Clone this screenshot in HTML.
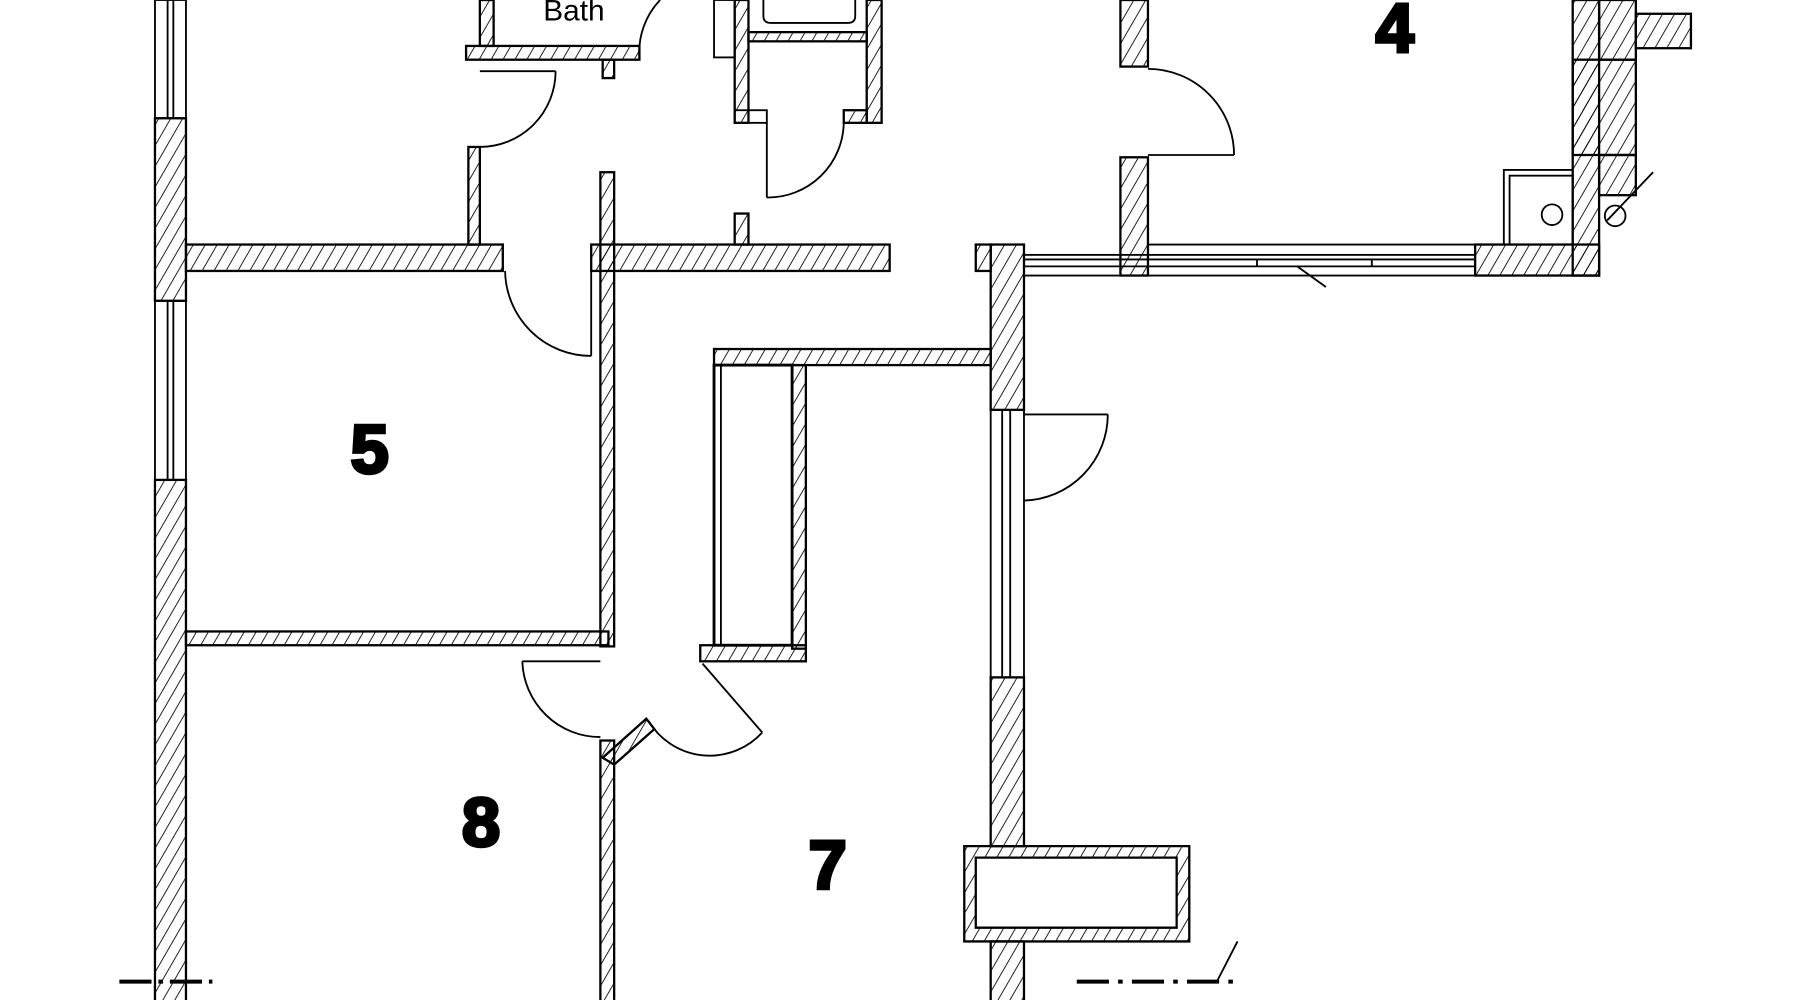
<!DOCTYPE html>
<html><head><meta charset="utf-8"><style>
html,body{margin:0;padding:0;background:#fff;}
svg{display:block;}
text{font-family:"Liberation Sans",sans-serif;font-weight:bold;fill:#000;}
</style></head><body>
<svg width="1800" height="1000" viewBox="0 0 1568 871" preserveAspectRatio="none" xmlns="http://www.w3.org/2000/svg">
<defs>
<pattern id="ht" patternUnits="userSpaceOnUse" width="9" height="9" patternTransform="rotate(30)">
<line x1="0" y1="0" x2="0" y2="9" stroke="#000" stroke-width="1.5"/>
</pattern>
</defs>
<rect width="1568" height="871" fill="#fff"/>
<g stroke="#000" stroke-width="2" fill="url(#ht)">
<rect x="135" y="103" width="27" height="159"/>
<rect x="135" y="418" width="27" height="460"/>
<rect x="162" y="213" width="276" height="23"/>
<rect x="408" y="128" width="10" height="85"/>
<rect x="406" y="40" width="151" height="12"/>
<rect x="418" y="0" width="12" height="40"/>
<rect x="525" y="52" width="10" height="16"/>
<rect x="523" y="150" width="12" height="413"/>
<rect x="523" y="645" width="12" height="233"/>
<rect x="515" y="213" width="260" height="23"/>
<rect x="640" y="186" width="12" height="27"/>
<rect x="640" y="0" width="12" height="107"/>
<rect x="755" y="0" width="13" height="107"/>
<rect x="652" y="28" width="103" height="8"/>
<rect x="735" y="96" width="20" height="11"/>
<rect x="622" y="304" width="241" height="14"/>
<rect x="690" y="318" width="12" height="247"/>
<rect x="610" y="562" width="92" height="14"/>
<rect x="162" y="550" width="368" height="12"/>
<polygon points="525,660 535,666 570,635 563,626"/>
<rect x="863" y="213" width="29" height="144"/>
<rect x="863" y="590" width="29" height="147"/>
<rect x="863" y="820" width="29" height="58"/>
<path d="M840,737 H1036 V820 H840 Z M850,747 V808 H1025 V747 Z" fill-rule="evenodd"/>
<rect x="976" y="0" width="24" height="58"/>
<rect x="976" y="137" width="24" height="103"/>
<rect x="1285" y="213" width="108" height="27"/>
<rect x="1370" y="0" width="23" height="240"/>
<rect x="1370" y="52" width="55" height="83"/>
<rect x="1393" y="0" width="32" height="52"/>
<rect x="1425" y="12" width="48" height="30"/>
<rect x="1393" y="135" width="32" height="35"/>
<rect x="850" y="213" width="13" height="23"/>
</g>
<g stroke="#000" stroke-width="1.6" fill="none">
<rect x="135" y="0" width="27" height="103"/>
<line x1="146" y1="0" x2="146" y2="103"/><line x1="151" y1="0" x2="151" y2="103"/>
<rect x="135" y="262" width="27" height="156"/>
<line x1="146" y1="262" x2="146" y2="418"/><line x1="151" y1="262" x2="151" y2="418"/>
<rect x="863" y="357" width="29" height="233"/>
<line x1="873" y1="357" x2="873" y2="590"/><line x1="880" y1="357" x2="880" y2="590"/>
<rect x="892" y="222" width="393" height="18"/>
<line x1="892" y1="226" x2="1285" y2="226"/><line x1="892" y1="232" x2="1285" y2="232"/>
<line x1="1095" y1="226" x2="1095" y2="232"/><line x1="1195" y1="226" x2="1195" y2="232"/>
<line x1="1000" y1="213" x2="1285" y2="213"/>
<line x1="1130" y1="232" x2="1155" y2="250"/>
<rect x="622" y="318" width="68" height="244" stroke-width="2.5"/>
<line x1="628" y1="318" x2="628" y2="562"/>
<line x1="418" y1="62" x2="484" y2="62"/>
<path d="M484,62 A66,66 0 0 1 418,128"/>
<path d="M557,50 A66,66 0 0 1 575,0"/>
<line x1="515" y1="236" x2="515" y2="310"/>
<path d="M440,236 A75,75 0 0 0 515,310"/>
<line x1="668" y1="107" x2="668" y2="172"/>
<path d="M668,172 A66,66 0 0 0 735,107"/>
<line x1="1000" y1="135" x2="1075" y2="135"/>
<path d="M1000,60 A75,75 0 0 1 1075,135"/>
<line x1="892" y1="361" x2="965" y2="361"/>
<path d="M965,361 A75,75 0 0 1 892,436"/>
<line x1="455" y1="576" x2="523" y2="576"/>
<path d="M455,576 A68,68 0 0 0 523,642"/>
<line x1="612" y1="578" x2="664" y2="638"/>
<path d="M664,638 A62,62 0 0 1 565,628"/>
<path d="M665,0 V14 Q665,20 672,20 H738 Q745,20 745,14 V0"/>
<rect x="622" y="0" width="18" height="50"/>
<rect x="640" y="96" width="28" height="11"/>
<rect x="1310" y="148" width="60" height="65"/>
<rect x="1315" y="153" width="55" height="60"/>
<circle cx="1352" cy="187" r="9"/>
<circle cx="1407" cy="188" r="9"/>
<line x1="1400" y1="192" x2="1440" y2="150"/>
<line x1="104" y1="855" x2="185" y2="855" stroke-width="3.5" stroke-dasharray="28,6,4,6"/>
<line x1="938" y1="855" x2="1080" y2="855" stroke-width="3.5" stroke-dasharray="28,8,4,8"/>
<line x1="1060" y1="855" x2="1078" y2="820"/>
</g>
<text x="500" y="18" font-size="26" style="font-weight:normal" text-anchor="middle">Bath</text>
<g stroke="#000" stroke-width="3">
<text x="1215" y="45" font-size="60" text-anchor="middle">4</text>
<text x="322" y="412" font-size="60" text-anchor="middle">5</text>
<text x="419" y="737" font-size="60" text-anchor="middle">8</text>
<text x="721" y="774" font-size="60" text-anchor="middle">7</text>
</g>
</svg>
</body></html>
